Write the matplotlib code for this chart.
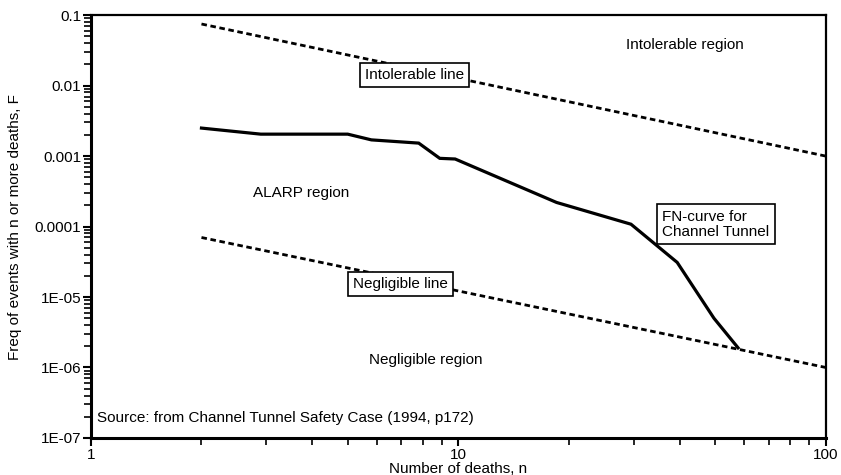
import numpy as np
import matplotlib.pyplot as plt
from matplotlib.ticker import LogLocator, NullFormatter

plt.rcParams['font.family'] = ['Liberation Sans', 'DejaVu Sans']
plt.rcParams['font.size'] = 11

# FN-curve
fn_n = [2, 2.9, 5, 5.8, 7.8, 8.9, 9.8, 18.5, 29.5, 39.4, 49.6, 57.7]
fn_f = [2.5e-3, 2.05e-3, 2.05e-3, 1.7e-3, 1.53e-3, 9.3e-4, 9.1e-4,
        2.2e-4, 1.08e-4, 3.1e-5, 5.0e-6, 1.9e-6]

# criterion lines (end points)
intol_n = [2, 100]
intol_f = [0.075, 0.001]
neglig_n = [2, 100]
neglig_f = [7e-5, 1e-6]

y_ticks = [1e-7, 1e-6, 1e-5, 1e-4, 1e-3, 1e-2, 1e-1]
y_labels = ["1E-07", "1E-06", "1E-05", "0.0001", "0.001", "0.01", "0.1"]
x_ticks = [1, 10, 100]
x_labels = ["1", "10", "100"]

fig = plt.figure(figsize=(8.41, 4.75), dpi=100)
ax = fig.add_axes([0.108, 0.078, 0.874, 0.890])

ax.plot(intol_n, intol_f, color="black", lw=2, dashes=(2, 1.3))
ax.plot(neglig_n, neglig_f, color="black", lw=2, dashes=(2, 1.3))
ax.plot(fn_n, fn_f, color="black", lw=2.3, solid_joinstyle="miter")

ax.set_xscale("log")
ax.set_yscale("log")
ax.set_xlim(1, 100)
ax.set_ylim(1e-7, 0.1)

ax.set_yticks(y_ticks)
ax.set_yticklabels(y_labels)
ax.set_xticks(x_ticks)
ax.set_xticklabels(x_labels)
ax.xaxis.set_minor_locator(LogLocator(base=10, subs=np.arange(2, 10)))
ax.yaxis.set_minor_locator(LogLocator(base=10, subs=np.arange(2, 10)))
ax.xaxis.set_minor_formatter(NullFormatter())
ax.yaxis.set_minor_formatter(NullFormatter())
ax.tick_params(which="major", direction="out", length=6, width=1.5, pad=1)
ax.tick_params(which="minor", direction="out", length=5, width=1.2)

for side in ["left", "bottom"]:
    ax.spines[side].set_linewidth(2.2)
for side in ["top", "right"]:
    ax.spines[side].set_linewidth(1.6)

ax.set_xlabel("Number of deaths, n", labelpad=0)
ax.set_ylabel("Freq of events with n or more deaths, F", labelpad=9)

box = dict(boxstyle="square,pad=0.35", facecolor="white", edgecolor="black", lw=1.2)
ax.text(7.6, 0.0141, "Intolerable line", ha="center", va="center", bbox=box, zorder=5)
ax.text(6.96, 1.53e-5, "Negligible line", ha="center", va="center", bbox=box, zorder=5)
ax.text(50.2, 1.08e-4, "FN-curve for\nChannel Tunnel", ha="center", va="center",
        multialignment="left", linespacing=1.1, bbox=box, zorder=5)

ax.text(41.4, 0.0375, "Intolerable region", ha="center", va="center")
ax.text(3.74, 2.98e-4, "ALARP region", ha="center", va="center")
ax.text(8.13, 1.28e-6, "Negligible region", ha="center", va="center")
ax.text(0.008, 0.047, "Source: from Channel Tunnel Safety Case (1994, p172)",
        transform=ax.transAxes, ha="left", va="center")

fig.savefig("out.png", dpi=100)
